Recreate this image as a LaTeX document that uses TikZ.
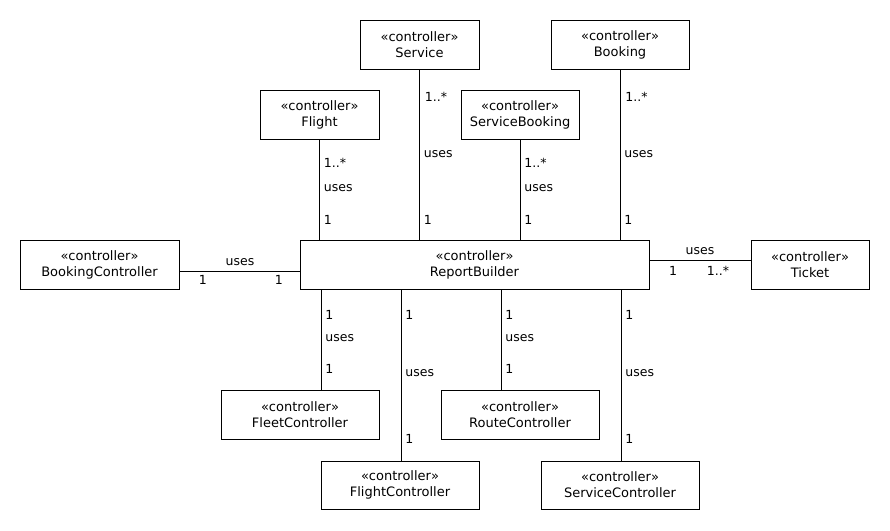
\documentclass[tikz,border=0pt]{standalone}
\usepackage{fontspec}
\setmainfont{DejaVu Sans}
\begin{document}
\begin{tikzpicture}[x=1pt,y=-1pt,line width=0.8pt,
		ctrl/.style={draw,align=center,inner sep=0pt,outer sep=0pt,minimum height=49pt,font=\fontsize{13}{16}\selectfont},
		lbl/.style={inner sep=0pt,font=\fontsize{12.5}{14}\selectfont}]
	\useasboundingbox (0,0) rectangle (890,530);
	% upper row
	\node[ctrl,minimum width=119pt] (Service) at (419.5,44.5) {«controller»\\Service};
	\node[ctrl,minimum width=138pt] (Booking) at (620,44.5) {«controller»\\Booking};
	\node[ctrl,minimum width=119pt] (Flight) at (319.5,114.5) {«controller»\\Flight};
	\node[ctrl,minimum width=118pt] (ServiceBooking) at (520,114.5) {«controller»\\ServiceBooking};
	% middle row
	\node[ctrl,minimum width=159pt] (BookingController) at (99.5,264.5) {«controller»\\BookingController};
	\node[ctrl,minimum width=349pt] (RB) at (474.5,264.5) {«controller»\\ReportBuilder};
	\node[ctrl,minimum width=118pt] (Ticket) at (810,264.5) {«controller»\\Ticket};
	% lower rows
	\node[ctrl,minimum width=158pt] (FleetController) at (300,414.5) {«controller»\\FleetController};
	\node[ctrl,minimum width=158pt] (RouteController) at (520,414.5) {«controller»\\RouteController};
	\node[ctrl,minimum width=158pt,minimum height=48pt] (FlightController) at (400,485) {«controller»\\FlightController};
	\node[ctrl,minimum width=158pt,minimum height=48pt] (ServiceController) at (620,485) {«controller»\\ServiceController};

	\draw (Service.south) -- (Service.south |- RB.north)
		node[lbl,right=5pt,pos=.164] {1..*} node[lbl,right=4pt,pos=.497] {uses} node[lbl,right=4pt,pos=.883] {1};
	\draw (Booking.south) -- (Booking.south |- RB.north)
		node[lbl,right=5pt,pos=.164] {1..*} node[lbl,right=4pt,pos=.497] {uses} node[lbl,right=4pt,pos=.883] {1};
	\draw (Flight.south) -- (Flight.south |- RB.north)
		node[lbl,right=4pt,pos=.238] {1..*} node[lbl,right=4pt,pos=.485] {uses} node[lbl,right=4pt,pos=.802] {1};
	\draw (ServiceBooking.south) -- (ServiceBooking.south |- RB.north)
		node[lbl,right=4pt,pos=.238] {1..*} node[lbl,right=4pt,pos=.485] {uses} node[lbl,right=4pt,pos=.802] {1};

	\draw ([yshift=-6.5pt]BookingController.east) -- ([yshift=-6.5pt]BookingController.east -| RB.west)
		node[lbl,above=5pt,pos=.504] {uses} node[lbl,below=3.5pt,pos=.198] {1} node[lbl,below=3.5pt,pos=.826] {1};
	\draw ([yshift=4.5pt]RB.east) -- ([yshift=4.5pt]RB.east -| Ticket.west)
		node[lbl,above=4.5pt,pos=.5] {uses} node[lbl,below=5.5pt,pos=.235] {1} node[lbl,below=5.5pt,pos=.676] {1..*};

	\draw ([xshift=21pt]FleetController.north |- RB.south) -- ([xshift=21pt]FleetController.north)
		node[lbl,right=4pt,pos=.257] {1} node[lbl,right=4pt,pos=.485] {uses} node[lbl,right=4pt,pos=.792] {1};
	\draw ([xshift=-19pt]RouteController.north |- RB.south) -- ([xshift=-19pt]RouteController.north)
		node[lbl,right=4pt,pos=.257] {1} node[lbl,right=4pt,pos=.485] {uses} node[lbl,right=4pt,pos=.792] {1};
	\draw ([xshift=1pt]FlightController.north |- RB.south) -- ([xshift=1pt]FlightController.north)
		node[lbl,right=4pt,pos=.151] {1} node[lbl,right=4pt,pos=.488] {uses} node[lbl,right=4pt,pos=.872] {1};
	\draw ([xshift=1pt]ServiceController.north |- RB.south) -- ([xshift=1pt]ServiceController.north)
		node[lbl,right=4pt,pos=.151] {1} node[lbl,right=4pt,pos=.488] {uses} node[lbl,right=4pt,pos=.872] {1};
\end{tikzpicture}
\end{document}
